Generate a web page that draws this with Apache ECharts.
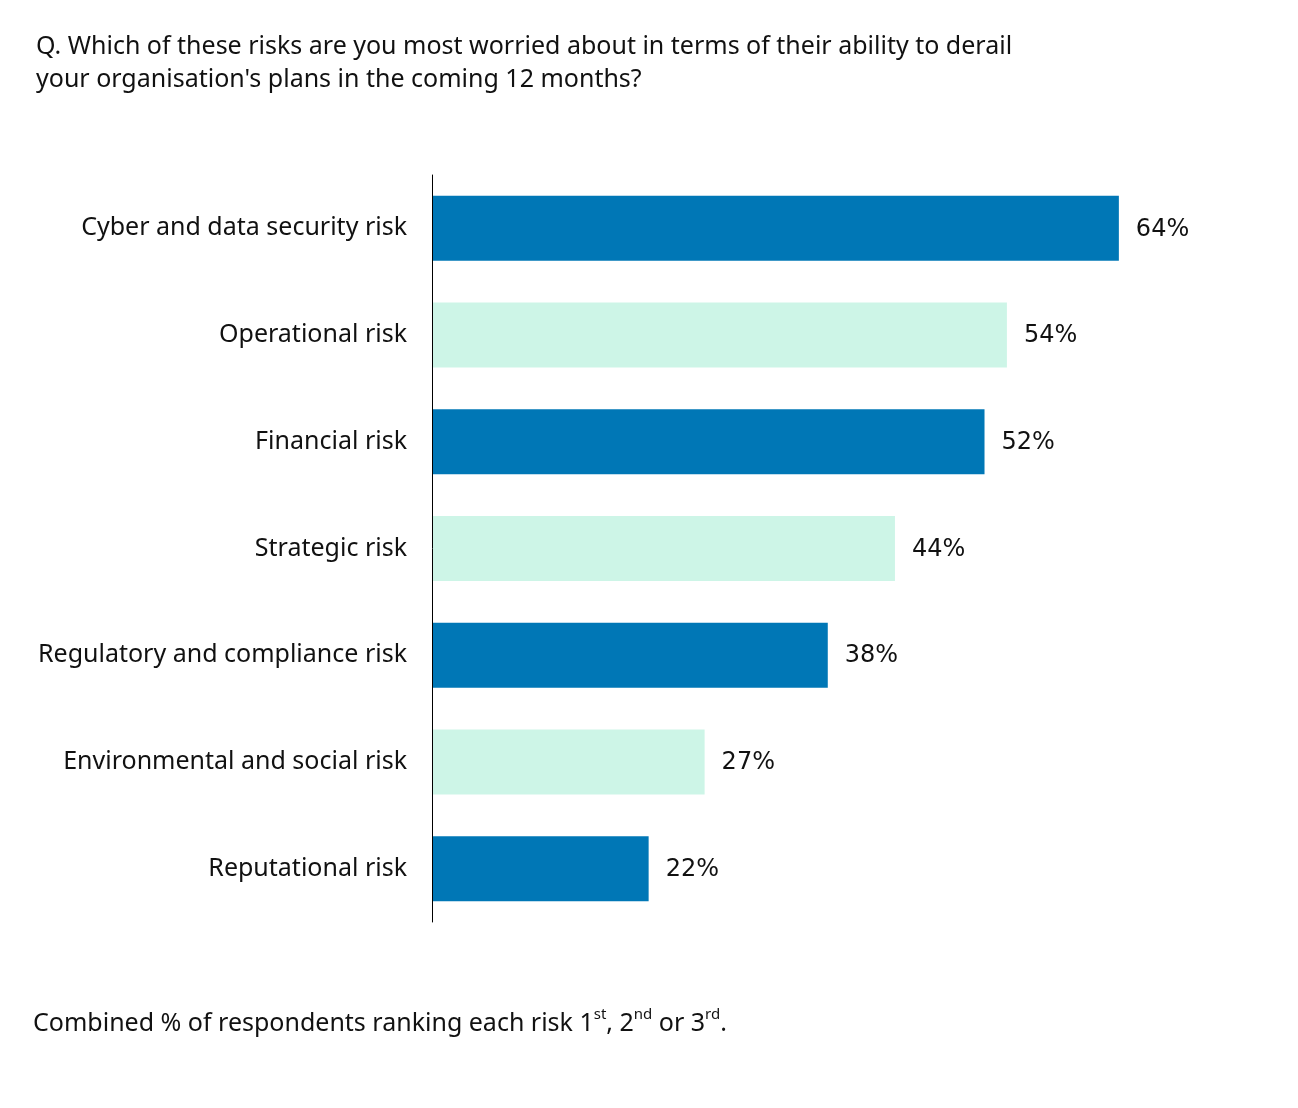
<!DOCTYPE html>
<html>
<head>
<meta charset="utf-8">
<script src="https://cdn.jsdelivr.net/npm/echarts@6/dist/echarts.min.js"></script>
<style>html,body{margin:0;padding:0;background:#fff;}#c{width:1298px;height:1108px;}</style>
</head>
<body>
<div id="c"></div>
<script>
const categories = ["Cyber and data security risk","Operational risk","Financial risk","Strategic risk","Regulatory and compliance risk","Environmental and social risk","Reputational risk"];
const values = [64, 54, 52, 44, 38, 27, 22];
const palette = ["#0077b6", "#cdf5e7"];
const titleLines = ["Q. Which of these risks are you most worried about in terms of their ability to derail", "your organisation's plans in the coming 12 months?"];

const chart = echarts.init(document.getElementById('c'));
const FONT = 'Noto Sans';
chart.setOption({
  animation: false,
  backgroundColor: '#fff',
  grid: {left: 432, top: 175, width: 867, height: 747, containLabel: false},
  xAxis: {type: 'value', min: 2.65, max: 80, show: false},
  yAxis: {
    type: 'category', data: categories, inverse: true, z: 5,
    axisLine: {show: true, lineStyle: {color: '#000', width: 1}},
    axisTick: {show: false},
    axisLabel: {color: '#111', fontFamily: FONT, fontSize: 25, margin: 25, padding: [10, 0, 0, 0]}
  },
  series: [{
    type: 'bar', barWidth: 65,
    data: values.map((v, i) => ({value: v, itemStyle: {color: palette[i % 2]}})),
    label: {show: true, position: 'right', distance: 17, formatter: '{c}%', color: '#111', fontFamily: 'DejaVu Sans', fontSize: 24, offset: [0, 1]}
  }],
  graphic: [
    {type: 'text', left: 36, top: 30, style: {text: titleLines.join('\n'), fontFamily: FONT, fontSize: 25, lineHeight: 33, fill: '#111'}},
    {type: 'text', left: 33, top: 1007, style: {
      text: 'Combined % of respondents ranking each risk 1{s|st}, 2{s|nd} or 3{s|rd}.',
      fontFamily: FONT, fontSize: 25, fill: '#111', lineHeight: 34,
      rich: {s: {fontSize: 15, fontFamily: FONT, fill: '#111', verticalAlign: 'top', padding: [0,0,10,0]}}
    }}
  ]
});
</script>
</body>
</html>
